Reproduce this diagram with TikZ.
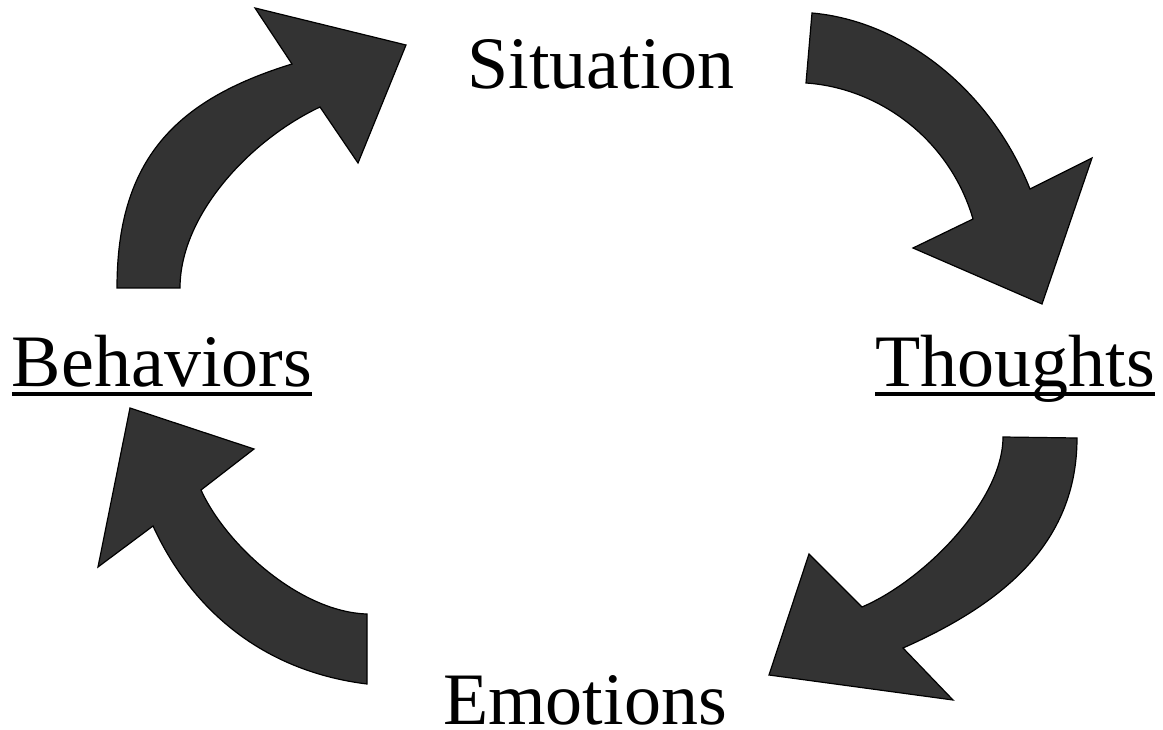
\documentclass[tikz,border=0pt]{standalone}
\usepackage{fontspec}
\setmainfont{Liberation Serif}

\definecolor{arrowgray}{HTML}{333333}
\newcommand{\txtsize}{74}
\newcommand{\lbl}{\node[anchor=base, inner sep=0pt, font=\fontsize{\txtsize}{80}\selectfont]}
\newcommand{\ulbl}[1]{\draw[line width=3.5pt] ([yshift=-8pt]#1.base west) -- ([yshift=-8pt]#1.base east)}
\tikzset{
    cyclearrow/.style={fill=arrowgray, draw=black, line width=1.2pt, line join=miter}
}

\begin{document}
\begin{tikzpicture}[x=1pt, y=-1pt]
            \useasboundingbox (0,0) rectangle (1163,730);

            \lbl (sit) at (601, 89) {Situation};
            \lbl (tho) at (1015, 386) {Thoughts};
            \lbl (emo) at (585, 724) {Emotions};
            \lbl (beh) at (162, 386) {Behaviors};

            \ulbl{tho};
            \ulbl{beh};

            % behaviors -> situation
            \draw[cyclearrow]
                (117,288) -- (180,288)
                .. controls (180,215) and (250,140) .. (320,107)
                -- (358,163) -- (406,45) -- (255,8) -- (292,64)
                .. controls (175,100) and (117,160) .. (117,288)
                -- cycle;

            % situation -> thoughts
            \draw[cyclearrow]
                (812,13)
                .. controls (902,21) and (990,89) .. (1030,189)
                -- (1092,158) -- (1042,304) -- (913,248) -- (973,219)
                .. controls (950,140) and (880,88) .. (806,83)
                -- cycle;

            % thoughts -> emotions
            \draw[cyclearrow]
                (1003,437) -- (1077,438)
                .. controls (1077,545) and (1000,605) .. (903,648)
                -- (953,700) -- (769,675) -- (809,554) -- (862,607)
                .. controls (925,580) and (1003,500) .. (1003,437)
                -- cycle;

            % emotions -> behaviors
            \draw[cyclearrow]
                (367,614) -- (367,684)
                .. controls (270,672) and (195,617) .. (153,526)
                -- (98,567) -- (130,408) -- (254,449) -- (201,490)
                .. controls (226,545) and (300,612) .. (367,614)
                -- cycle;
        \end{tikzpicture}
\end{document}
